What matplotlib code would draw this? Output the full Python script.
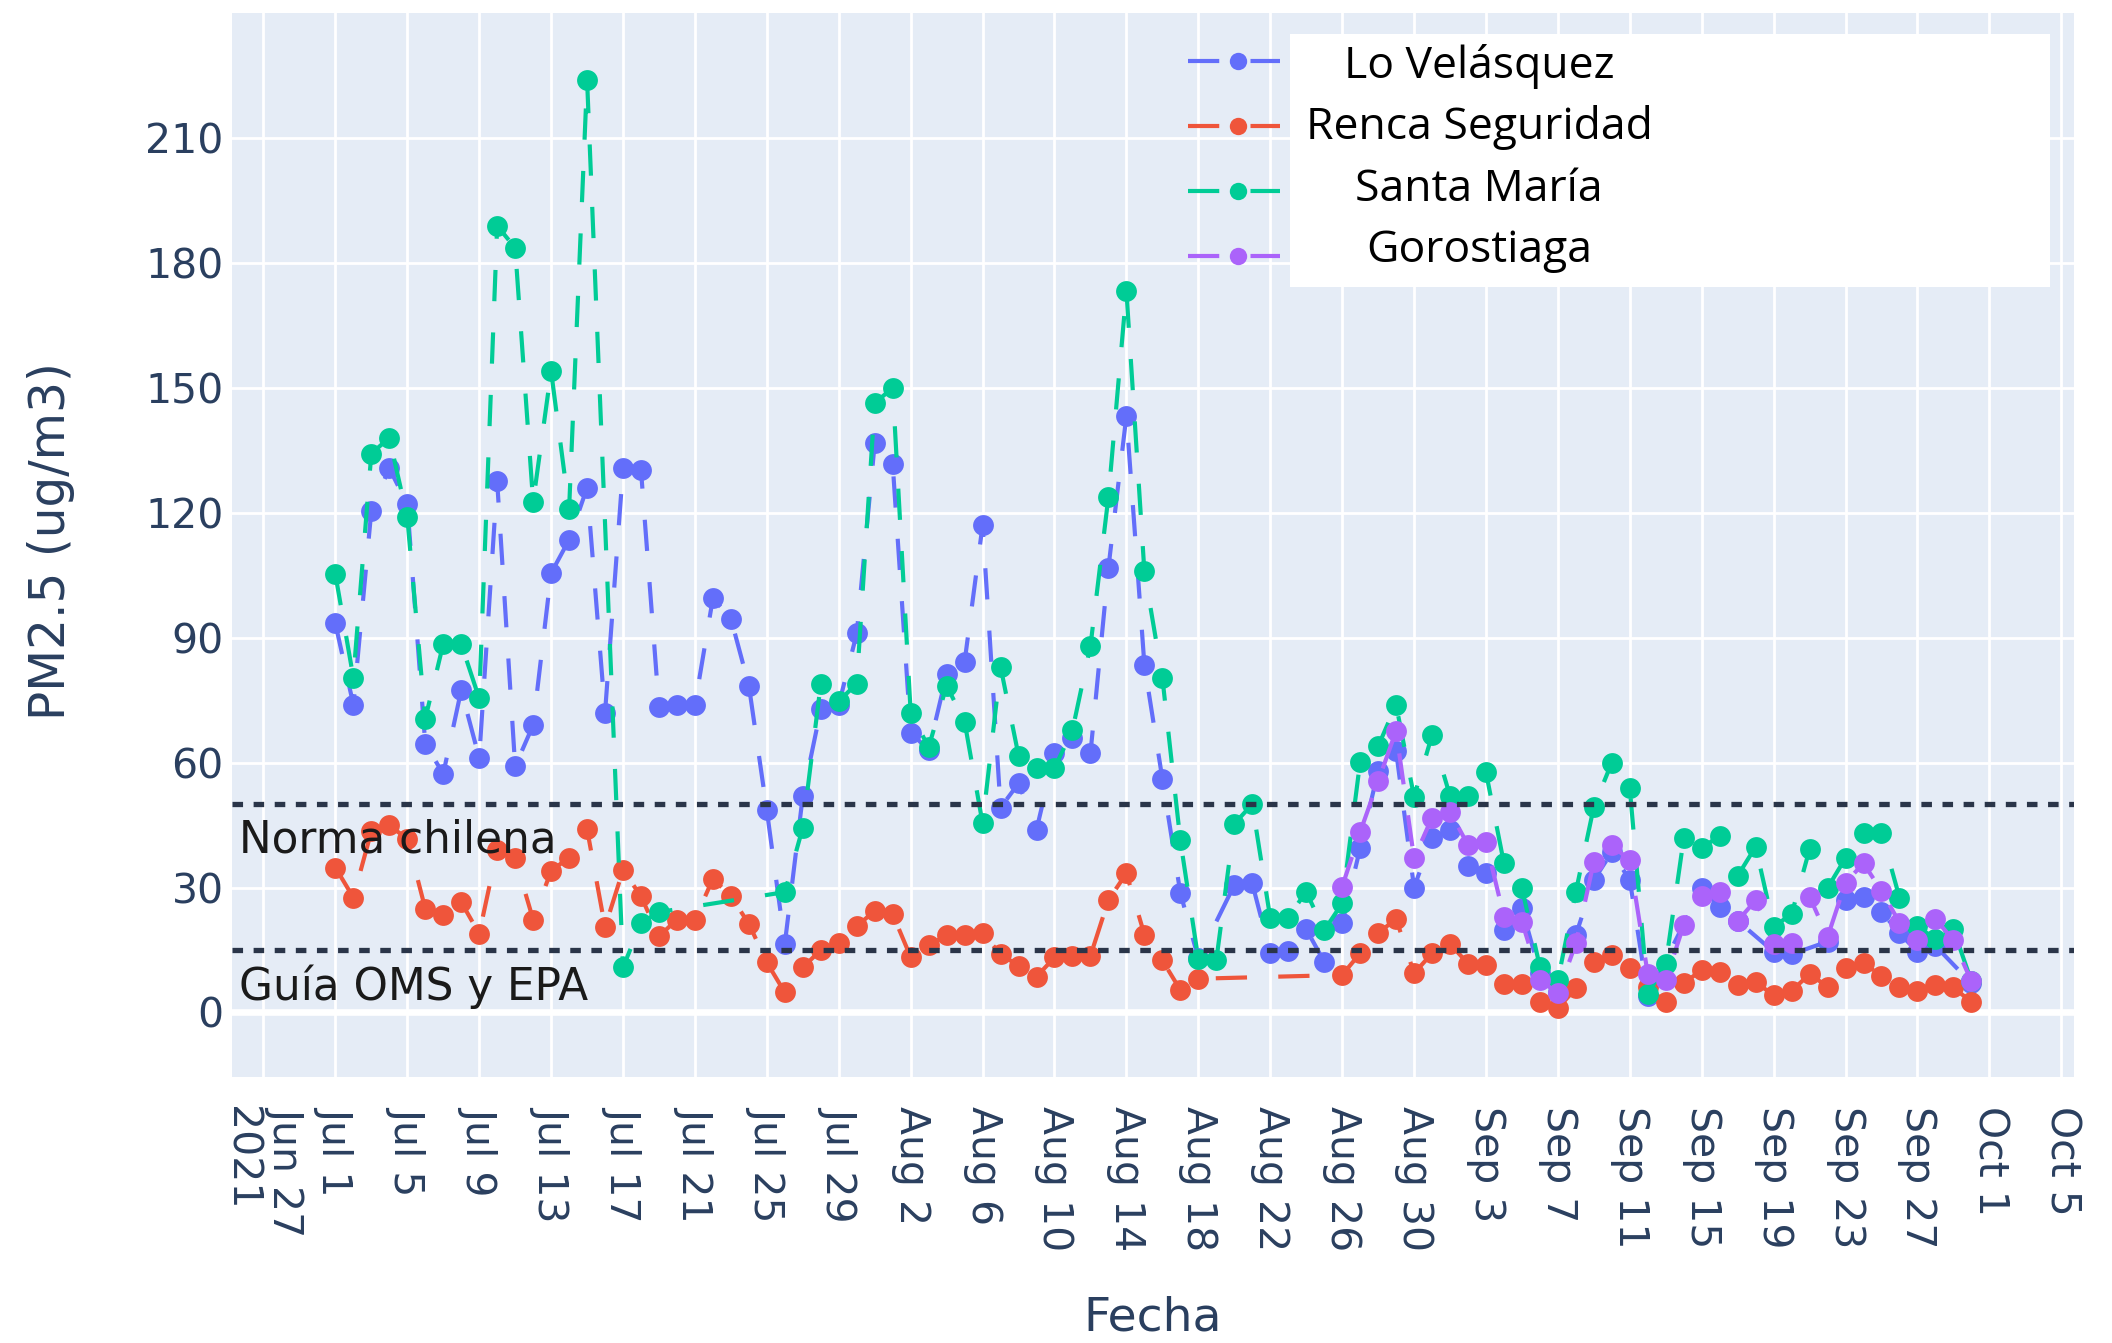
import datetime as dt
import matplotlib
matplotlib.use("Agg")
import matplotlib.pyplot as plt
from matplotlib.lines import Line2D
from matplotlib.patches import Rectangle

N = None
start = dt.datetime(2021, 7, 1)
dates = [start + dt.timedelta(days=i) for i in range(92)]

series_names = ["Lo Velásquez", "Renca Seguridad", "Santa María", "Gorostiaga"]
series_colors = ["#636EFA", "#EF553B", "#00CC96", "#AB63FA"]

lo_velasquez = [
    93.4, 73.9, 120.5, 130.7, 122.0, 64.5, 57.3, 77.4, 61.1, 127.5,
    59.1, 69.0, 105.5, 113.5, 126.0, 72.0, 130.7, 130.2, 73.3, 73.9,
    73.9, 99.5, 94.6, 78.5, 48.5, 16.5, 52.0, 72.8, 73.9, 91.0, 136.7,
    131.7, 67.2, 63.0, 81.2, 84.2, 117.0, 49.2, 55.0, 43.9, 62.2,
    66.0, 62.2, 106.8, 143.3, 83.5, 56.1, 28.7, 13.0, N, 30.6,
    31.0, 14.3, 14.7, 20.0, 12.2, 21.4, 39.4, 58.0, 62.8, 30.0, 42.0,
    43.8, 35.2, 33.4, 19.7, 25.0, 9.5, 5.0, 18.6, 31.8, 38.5,
    31.8, 4.0, N, N, 29.8, 25.4, 22.0, N, 14.6, 14.0,
    N, 17.0, 27.0, 27.8, 24.2, 19.0, 14.6, 16.0, N, 7.0,
]
renca_seguridad = [
    34.8, 27.6, 43.5, 44.9, 41.7, 24.9, 23.3, 26.5, 18.9, 39.0,
    37.0, 22.3, 34.0, 37.2, 44.0, 20.5, 34.2, 27.9, 18.3, 22.3,
    22.3, 32.1, 27.9, 21.3, 12.0, 4.8, 10.8, 15.0, 16.7, 20.7, 24.4,
    23.6, 13.3, 16.2, 18.5, 18.7, 19.0, 14.0, 11.2, 8.6, 13.2,
    13.6, 13.6, 27.0, 33.4, 18.7, 12.5, 5.4, 8.1, N, N,
    N, N, N, N, N, 9.0, 14.2, 19.0, 22.5, 9.4, 14.2,
    16.5, 11.7, 11.3, 6.8, 6.8, 2.4, 1.0, 5.8, 12.2, 13.8,
    10.6, 6.0, 2.4, 7.0, 10.2, 9.8, 6.6, 7.2, 4.2, 5.2,
    9.2, 6.2, 10.7, 11.8, 8.8, 6.0, 5.2, 6.6, 6.0, 2.5,
]
santa_maria = [
    105.2, 80.4, 134.2, 138.0, 118.9, 70.5, 88.5, 88.5, 75.4, 188.9,
    183.6, 122.6, 154.0, 120.8, 224.0, N, 10.8, 21.5, 24.1, N,
    N, N, N, N, N, 28.9, 44.4, 78.9, 74.8, 78.9, 146.3,
    150.0, 72.0, 63.7, 78.5, 69.8, 45.4, 83.0, 61.7, 58.7, 58.7,
    67.8, 88.0, 123.8, 173.3, 105.9, 80.4, 41.3, 12.8, 12.5, 45.3,
    50.0, 22.7, 22.8, 29.0, 19.7, 26.2, 60.2, 63.9, 73.9, 51.8, 66.6,
    52.0, 52.0, 57.7, 35.8, 29.8, 11.0, 7.8, 29.0, 49.4, 60.0,
    53.8, 4.4, 11.6, 41.8, 39.6, 42.3, 32.8, 39.8, 20.6, 23.6,
    39.2, 29.9, 37.1, 43.0, 43.2, 27.6, 20.7, 17.6, 20.0, 7.5,
]
gorostiaga = [N] * 56 + [
    30.2, 43.3, 55.5, 67.6, 37.0, 46.8,
    48.2, 40.2, 40.9, 23.0, 21.8, 7.8, 4.6, 16.6, 36.2, 40.2,
    36.5, 9.2, 7.8, 21.0, 28.0, 29.0, 22.0, 26.9, 16.4, 16.6,
    27.8, 18.1, 31.2, 35.8, 29.2, 21.6, 17.4, 22.5, 17.3, 7.5,
]
series_values = [lo_velasquez, renca_seguridad, santa_maria, gorostiaga]

y_ticks = [0, 30, 60, 90, 120, 150, 180, 210]
x_tick_dates = [dt.datetime(2021, 6, 27) + dt.timedelta(days=4 * i) for i in range(26)]
x_tick_labels = ["Jun 27\n2021"] + [d.strftime("%b ") + str(d.day) for d in x_tick_dates[1:]]

ref_levels = [50, 15]
ref_labels = ["Norma chilena", "Guía OMS y EPA"]
ref_label_y = [41.4, 6.1]

W, H = 2112, 1343
fig = plt.figure(figsize=(W / 100, H / 100), dpi=100)
ax = fig.add_axes([232 / W, 1 - 1077 / H, (2074 - 232) / W, (1077 - 13) / H])
ax.set_facecolor("#E5ECF6")
for s in ax.spines.values():
    s.set_visible(False)

ax.set_xlim(dt.datetime(2021, 6, 25, 6), dt.datetime(2021, 10, 5, 17))
ax.set_ylim(-15.5, 240)
ax.set_yticks(y_ticks)
ax.set_xticks(x_tick_dates)
ax.set_xticklabels(x_tick_labels, rotation=-90, ha="center", va="top",
                   multialignment="left")
ax.tick_params(axis="both", length=0, labelsize=29.5, colors="#2A3F5F")
ax.tick_params(axis="x", pad=21)
ax.tick_params(axis="y", pad=6)
ax.grid(True, color="white", lw=2.0)
ax.set_axisbelow(True)
ax.axhline(0, color="white", lw=4.8, zorder=1)

dash = (0, (7.5, 7.5))
for name, vals, col in zip(series_names, series_values, series_colors):
    xs = [d for d, v in zip(dates, vals) if v is not None]
    ys = [v for v in vals if v is not None]
    ax.plot(xs, ys, color=col, lw=3.0, linestyle=dash, marker="o", ms=15,
            mew=0, zorder=3, dash_capstyle="butt")

for lvl, lab, ly in zip(ref_levels, ref_labels, ref_label_y):
    ax.axhline(lvl, color="#2A3549", lw=3.8, linestyle=(0, (2, 2)), zorder=5)
    ax.text(0.004, ly, lab, transform=ax.get_yaxis_transform(), fontsize=31.5,
            color="#1a1a1a", ha="left", va="center", zorder=6)

# legend
def ax_y(py):
    return 1 - (py - 13) / 1064

def ax_x(px):
    return (px - 232) / 1842

box = Rectangle((ax_x(1290), ax_y(287)), ax_x(2050) - ax_x(1290), ax_y(34) - ax_y(287),
                transform=ax.transAxes, facecolor="white", edgecolor="none", zorder=7)
ax.add_patch(box)
handle_y = [61, 126, 191, 256]
text_base = [78, 139, 201, 262]
for name, col, hy, tb in zip(series_names, series_colors, handle_y, text_base):
    ln = Line2D([ax_x(1188), ax_x(1280)], [ax_y(hy), ax_y(hy)], transform=ax.transAxes,
                color=col, lw=3.0, linestyle=dash, dash_capstyle="butt", zorder=8)
    ax.add_line(ln)
    mk = Line2D([ax_x(1238)], [ax_y(hy)], transform=ax.transAxes, color=col,
                marker="o", ms=12.5, mew=0, linestyle="none", zorder=9)
    ax.add_line(mk)
    ax.text(ax_x(1479), ax_y(tb), name, transform=ax.transAxes, fontsize=32,
            family=["Open Sans", "DejaVu Sans"], color="black", ha="center",
            va="baseline", zorder=9)

fig.text(51 / W, 1 - 541 / H, "PM2.5 (ug/m3)", rotation=90, ha="center", va="center",
         fontsize=35, color="#2A3F5F")
fig.text(1153 / W, 1 - 1318 / H, "Fecha", ha="center", va="center",
         fontsize=34, color="#2A3F5F")

fig.savefig("out.png", dpi=100, facecolor="white")
